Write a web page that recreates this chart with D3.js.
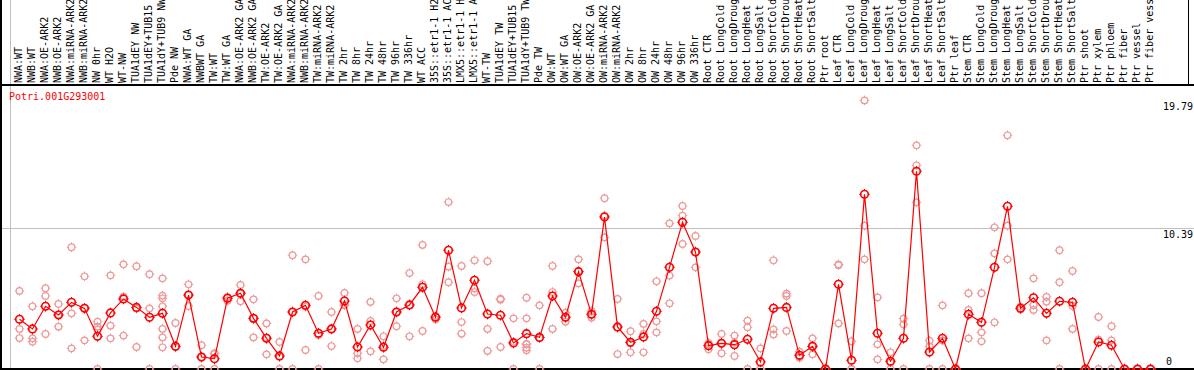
<!DOCTYPE html>
<html>
<head>
<meta charset="utf-8">
<script src="https://cdn.jsdelivr.net/npm/d3@7"></script>
<style>
  html, body { margin: 0; padding: 0; background: #fff; }
  svg { display: block; }
  text { font-family: "DejaVu Sans Mono", monospace; }
</style>
</head>
<body>
<div id="chart"></div>
<script>
const geneId = 'Potri.001G293001';

const samples = [
  'NWA:WT', 'NWB:WT', 'NWA:OE-ARK2', 'NWB:OE-ARK2', 'NWA:miRNA-ARK2', 'NWB:miRNA-ARK2', 'NW 0hr', 'WT H2O',
  'WT-NW', 'TUA1dEY NW', 'TUA1dEY+TUB15', 'TUA1dY+TUB9 NW', 'Pde NW',
  'NWA:WT GA', 'NWBWT GA', 'TW:WT', 'TW:WT GA', 'NWA:OE-ARK2 GA', 'NWB:OE-ARK2 GA', 'TW:OE-ARK2',
  'TW:OE-ARK2 GA', 'NWA:miRNA-ARK2', 'NWB:miRNA-ARK2', 'TW:miRNA-ARK2', 'TW:miRNA-ARK2', 'TW 2hr',
  'TW 8hr', 'TW 24hr', 'TW 48hr', 'TW 96hr', 'TW 336hr', 'WT ACC', '35S::etr1-1 H2O', '35S::etr1-1 ACC',
  'LMX5::etr1-1 H', 'LMX5::etr1-1 A', 'WT-TW', 'TUA1dEY TW', 'TUA1dEY+TUB15', 'TUA1dY+TUB9 TW', 'Pde TW',
  'OW:WT', 'OW:WT GA', 'OW:OE-ARK2', 'OW:OE-ARK2 GA', 'OW:miRNA-ARK2', 'OW:miRNA-ARK2', 'OW 2hr',
  'OW 8hr', 'OW 24hr', 'OW 48hr', 'OW 96hr', 'OW 336hr',
  'Root CTR', 'Root LongCold', 'Root LongDroug', 'Root LongHeat', 'Root LongSalt', 'Root ShortCold',
  'Root ShortDrou', 'Root ShortHeat', 'Root ShortSalt', 'Ptr root',
  'Leaf CTR', 'Leaf LongCold', 'Leaf LongDroug', 'Leaf LongHeat', 'Leaf LongSalt', 'Leaf ShortCold',
  'Leaf ShortDrou', 'Leaf ShortHeat', 'Leaf ShortSalt', 'Ptr leaf',
  'Stem CTR', 'Stem LongCold', 'Stem LongDroug', 'Stem LongHeat', 'Stem LongSalt', 'Stem ShortCold',
  'Stem ShortDrou', 'Stem ShortHeat', 'Stem ShortSalt', 'Ptr shoot', 'Ptr xylem',
  'Ptr phloem', 'Ptr fiber', 'Ptr vessel', 'Ptr fiber vessel'
];

// number of samples in each block between the grey separators
const groupSizes = [13, 28, 12, 10, 10, 11, 1, 1, 1, 1];

const means = [
  3.66, 2.95, 4.62, 3.98, 4.91, 4.47, 2.41, 4.13, 5.16, 4.54, 3.81, 4.10, 1.67,
  5.45, 0.88, 0.76, 5.21, 5.58, 3.73, 2.26, 0.96, 4.20, 4.69, 2.63, 2.95, 5.01, 1.62,
  3.24, 1.60, 4.20, 4.72, 6.02, 3.81, 8.75, 4.50, 6.54, 4.05, 3.96, 1.92, 2.60, 2.33,
  5.38, 3.81, 7.17, 4.03, 11.20, 3.10, 1.97, 2.36, 4.25, 7.49, 10.81, 8.62,
  1.72, 1.89, 1.79, 2.19, 0.52, 4.47, 4.54, 1.01, 1.67, 0,
  6.24, 0.64, 12.87, 2.63, 0.57, 2.26, 14.57, 1.25, 2.26, 0,
  4.03, 3.44, 7.49, 11.99, 4.47, 5.25, 4.10, 4.99, 4.91, 0, 1.99,
  1.75, 0, 0, 0
];

const replicates = [
  [5.75, 2.95, 2.28], [4.62, 2.26, 2.01], [5.95, 5.38, 2.58], [4.79, 3.12, 4.00],
  [8.97, 4.10, 1.52], [6.83, 2.11, 4.50], [3.49, 3.12, 0, 2.90], [6.90, 3.19, 2.26],
  [7.71, 5.33, 2.46], [7.57, 1.62, 4.45], [6.98, 4.47, 0], [6.68, 5.40, 5.21, 4.62, 2.95, 2.33, 1.60],
  [3.39, 1.62, 0],
  [6.24, 4.64, 5.45], [1.75, 0, 0.88], [1.16, 0, 1.10], [5.03, 5.30, 5.30], [6.19, 4.99, 5.56],
  [5.13, 2.33, 3.73], [3.36, 1.08, 2.33], [1.99, 0, 0.90], [8.38, 0, 4.20], [8.08, 1.40, 4.60],
  [5.38, 0, 2.50], [4.20, 1.69, 2.95], [5.60, 4.72, 4.70], [2.95, 1.16, 0.79], [4.94, 3.54, 1.30],
  [2.41, 0.71, 1.70], [5.21, 3.15, 4.20], [7.07, 2.41, 4.70], [9.14, 6.24, 2.80], [3.91, 3.66, 3.86],
  [7.54, 6.39, 12.30], [7.59, 3.46, 2.60], [8.01, 5.67, 5.94], [7.94, 2.95, 1.33], [5.18, 5.11, 1.62],
  [3.73, 0, 2.00], [5.25, 3.73, 1.82, 1.57, 1.38, 1.85], [4.69, 0, 2.30],
  [7.59, 5.67, 2.95], [4.15, 3.49, 3.80], [8.08, 6.31, 7.20], [4.27, 3.78, 4.03], [12.58, 9.70, 11.30],
  [5.16, 1.10, 3.05], [2.78, 1.23, 1.90], [3.32, 2.58, 1.23], [6.46, 3.51, 2.70], [10.73, 6.88, 4.84],
  [12.01, 11.30, 9.21], [9.80, 7.49, 8.60],
  [1.92, 1.45, 1.80], [2.58, 1.16, 1.90], [2.46, 0.96, 1.95], [3.56, 3.07, 0], [1.52, 0, 0],
  [8.01, 2.92, 2.55], [5.55, 5.38, 2.80], [1.28, 0.83, 0.95], [2.26, 1.08, 1.67], [0, 0, 0],
  [7.71, 3.36, 7.65], [2.04, 0, 0], [19.79, 10.56, 8.08], [5.28, 1.82, 0.71], [1.23, 0, 0.50],
  [3.71, 3.29, 0], [16.48, 15.01, 12.28], [2.09, 1.67, 0], [4.69, 0, 2.10], [0, 0, 0],
  [5.58, 4.35, 2.26], [5.58, 2.70, 2.04], [10.44, 8.52, 3.44], [17.22, 10.56, 8.08], [4.59, 4.40, 4.40],
  [6.68, 4.35, 4.70], [5.31, 4.96, 2.11], [8.75, 6.39, 0], [7.22, 4.64, 2.95], [0, 0, 0], [3.83, 2.16, 0],
  [3.15, 2.11, 0], [0, 0, 0], [0, 0, 0], [0, 0, 0]
];

const yTicks = [0, 10.39, 19.79];

const width = 1194, height = 370;
const headerY = 85, plotLeft = 11, colW = 13;

const svg = d3.select('#chart')
  .append('svg')
  .attr('width', width)
  .attr('height', height);

const x = d3.scaleBand()
  .domain(d3.range(samples.length))
  .range([plotLeft, plotLeft + colW * samples.length])
  .paddingInner(0).paddingOuter(0);

const y = d3.scaleLinear()
  .domain([0, d3.max(yTicks)])
  .range([369, 100.4]);

const px = i => x(i) + 8.5;

// horizontal grid line at the middle tick
svg.append('line')
  .attr('x1', 0).attr('x2', width)
  .attr('y1', Math.round(y(yTicks[1])) + 0.5).attr('y2', Math.round(y(yTicks[1])) + 0.5)
  .attr('stroke', '#c0c0c0').attr('stroke-width', 1);

// vertical separators between sample groups
const sepIdx = [0].concat(d3.cumsum(groupSizes));
svg.selectAll('.sep')
  .data(sepIdx)
  .enter()
  .append('line')
  .attr('class', 'sep')
  .attr('x1', d => (d < samples.length ? x(d) : x(d - 1) + colW) - 0.5)
  .attr('x2', d => (d < samples.length ? x(d) : x(d - 1) + colW) - 0.5)
  .attr('y1', 0).attr('y2', height)
  .attr('stroke', '#c0c0c0').attr('stroke-width', 1);

// sample names, rotated
svg.selectAll('.lbl')
  .data(samples)
  .enter()
  .append('text')
  .attr('class', 'lbl')
  .attr('transform', (d, i) => `translate(${x(i) + 10.5},83) rotate(-90)`)
  .attr('font-size', '10px')
  .attr('fill', '#000')
  .text(d => d);

// frame
svg.append('line').attr('x1', 0).attr('x2', width).attr('y1', headerY).attr('y2', headerY)
  .attr('stroke', '#000').attr('stroke-width', 2);
svg.append('line').attr('x1', 0).attr('x2', width).attr('y1', 369).attr('y2', 369)
  .attr('stroke', '#000').attr('stroke-width', 2);
svg.append('line').attr('x1', 1).attr('x2', 1).attr('y1', 0).attr('y2', height)
  .attr('stroke', '#000').attr('stroke-width', 2);
svg.append('line').attr('x1', 1188.5).attr('x2', 1188.5).attr('y1', 0).attr('y2', headerY)
  .attr('stroke', '#000').attr('stroke-width', 1);

// right-hand value labels
svg.selectAll('.ytick')
  .data(yTicks)
  .enter()
  .append('text')
  .attr('class', 'ytick')
  .attr('x', d => d === 0 ? 1166 : 1163)
  .attr('y', d => d === 0 ? y(d) - 4 : y(d) + 10)
  .attr('font-size', '10px')
  .attr('fill', '#000')
  .text(d => d);

svg.append('text')
  .attr('x', 9).attr('y', 100)
  .attr('font-size', '10px')
  .attr('fill', '#ff0000')
  .text(geneId);

function marker(g, r, color, sw) {
  g.append('circle').attr('r', r).attr('fill', 'none').attr('stroke', color).attr('stroke-width', sw);
  [[0, -1], [0, 1], [-1, 0], [1, 0]].forEach(([dx, dy]) => {
    g.append('line')
      .attr('x1', dx * (r - 0.5)).attr('y1', dy * (r - 0.5))
      .attr('x2', dx * (r + 1.5)).attr('y2', dy * (r + 1.5))
      .attr('stroke', color).attr('stroke-width', 1);
  });
}

// replicate points
const repData = [];
replicates.forEach((arr, i) => arr.forEach(v => repData.push({i: i, v: v})));
svg.selectAll('.rep')
  .data(repData)
  .enter()
  .append('g')
  .attr('class', 'rep')
  .attr('transform', d => `translate(${px(d.i)},${y(d.v)})`)
  .each(function () { marker(d3.select(this), 3.3, '#ee9b9b', 1.2); });

// mean line
const line = d3.line()
  .x((d, i) => px(i))
  .y(d => y(d));
svg.append('path')
  .datum(means)
  .attr('d', line)
  .attr('fill', 'none')
  .attr('stroke', '#ff0000')
  .attr('stroke-width', 1.2);

svg.selectAll('.mean')
  .data(means)
  .enter()
  .append('g')
  .attr('class', 'mean')
  .attr('transform', (d, i) => `translate(${px(i)},${y(d)})`)
  .each(function () { marker(d3.select(this), 3.8, '#ff0000', 1.6); });
</script>
</body>
</html>
